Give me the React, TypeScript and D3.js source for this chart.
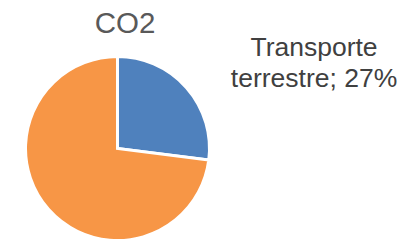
import React, { useEffect, useRef } from "react";
import * as d3 from "d3";

const categories = ["Transporte terrestre", "Otros"];
const values = [27, 73];
const colors = ["#4F81BD", "#F79646"];
const title = "CO2";
const labelLines = ["Transporte", "terrestre; 27%"];

export default function App() {
  const ref = useRef<SVGSVGElement>(null);

  useEffect(() => {
    const svg = d3.select(ref.current);
    svg.selectAll("*").remove();

    const width = 403;
    const height = 241;
    const cx = 117.5;
    const cy = 148.5;
    const radius = 92;

    const pie = d3.pie<number>().sort(null).value((d) => d);
    const arc = d3.arc<d3.PieArcDatum<number>>().innerRadius(0).outerRadius(radius);

    const g = svg.append("g").attr("transform", `translate(${cx},${cy})`);
    g.selectAll("path")
      .data(pie(values))
      .join("path")
      .attr("d", arc)
      .attr("fill", (_d, i) => colors[i])
      .attr("stroke", "#fff")
      .attr("stroke-width", 3)
      .attr("stroke-linejoin", "miter");

    svg
      .append("text")
      .attr("x", 125)
      .attr("y", 32.5)
      .attr("text-anchor", "middle")
      .attr("font-family", "Liberation Sans, Arial, sans-serif")
      .attr("font-size", 29.5)
      .attr("fill", "#595959")
      .text(title);

    const label = svg
      .append("text")
      .attr("text-anchor", "middle")
      .attr("font-family", "Liberation Sans, Arial, sans-serif")
      .attr("font-size", 26.5)
      .attr("fill", "#404040");
    labelLines.forEach((line, i) => {
      label
        .append("tspan")
        .attr("x", 314)
        .attr("y", 56 + i * 30.5)
        .text(line);
    });

    svg.attr("width", width).attr("height", height);
  }, []);

  return (
    <svg
      ref={ref}
      width={403}
      height={241}
      style={{ position: "absolute", left: 0, top: 0, background: "#fff" }}
      aria-label={categories.join(", ")}
    />
  );
}
